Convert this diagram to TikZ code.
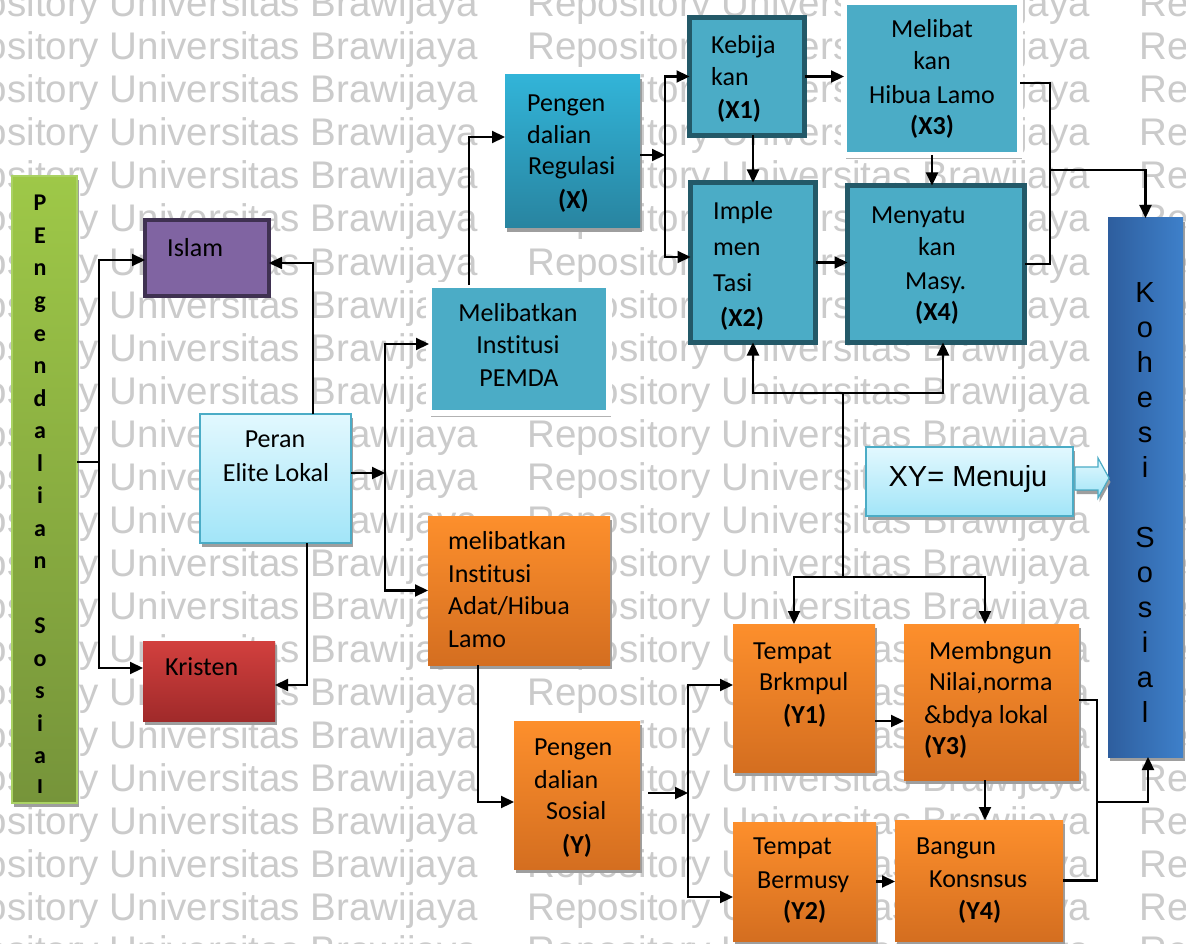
\documentclass[tikz,border=0pt]{standalone}
\usepackage{fontspec}
\setmainfont{Carlito}[Ligatures=NoCommon]
\newfontfamily\arialf{Liberation Sans}
\usetikzlibrary{arrows.meta,calc,shadows}

\definecolor{barT}{RGB}{158,200,72}
\definecolor{barB}{RGB}{118,148,58}
\definecolor{barL}{RGB}{170,210,100}
\definecolor{purF}{RGB}{128,100,162}
\definecolor{purD}{RGB}{63,49,81}
\definecolor{redT}{RGB}{210,64,62}
\definecolor{redB}{RGB}{160,42,42}
\definecolor{lcT}{RGB}{226,248,254}
\definecolor{lcB}{RGB}{162,229,248}
\definecolor{tealF}{RGB}{75,172,198}
\definecolor{tealD}{RGB}{35,89,104}
\definecolor{regT}{RGB}{50,180,216}
\definecolor{regB}{RGB}{40,132,160}
\definecolor{orT}{RGB}{253,143,44}
\definecolor{orB}{RGB}{212,110,32}
\definecolor{kohL}{RGB}{46,94,158}
\definecolor{kohR}{RGB}{62,128,202}
\definecolor{wmGray}{RGB}{203,203,203}

\begin{document}
\begin{tikzpicture}[x=1pt,y=-1pt,
  shadowed/.style={drop shadow={shadow xshift=1.5pt,shadow yshift=-4pt,fill=black!38,opacity=1}},
  box/.style={inner sep=0pt,outer sep=0pt},
  barbox/.style={box,shadowed,top color=barT,bottom color=barB,draw=barL,line width=1.5pt},
  islambox/.style={box,fill=purF,draw=purD,line width=4pt},
  kristenbox/.style={box,shadowed,top color=redT,bottom color=redB},
  lightbox/.style={box,shadowed,top color=lcT,bottom color=lcB,draw=tealF,line width=1.5pt},
  framebox/.style={box,drop shadow={shadow xshift=2pt,shadow yshift=-4pt,fill=black!30,opacity=1},fill=tealF,draw=white,line width=6pt},
  regbox/.style={box,shadowed,top color=regT,bottom color=regB},
  darkbox/.style={box,fill=tealF,draw=tealD,line width=5pt},
  orangebox/.style={box,shadowed,top color=orT,bottom color=orB},
  kohbox/.style={box,shadowed,left color=kohL,right color=kohR},
  txt/.style={font=\fontsize{26}{30}\selectfont,inner sep=0pt,text height=18pt,text depth=5pt},
  bold/.style={txt,font=\fontsize{26}{30}\selectfont\bfseries},
  wm/.style={font=\arialf\fontsize{38.5}{40}\selectfont,text=wmGray,inner sep=0pt,text height=28pt,text depth=8pt,anchor=west},
  conn/.style={line width=2.2pt,draw=black},
  arr/.style={conn,-{Triangle[length=13pt,width=12pt]}}
]
\fill[white] (0,0) rectangle (1186,944);
\clip (0,0) rectangle (1186,944);

% repository watermark in the background
\foreach \r in {0,...,22}{
  \foreach \c/\xx in {0/-85,1/527,2/1139}{
    \node[wm] (wm-\r-\c) at (\xx,{7+43*\r}) {Repository Universitas Brawijaya};
  }
}

% ---------- boxes ----------
\node[barbox,minimum width=65pt,minimum height=627pt] (bar) at (44.5,489.5) {};
\node[islambox,minimum width=124pt,minimum height=76pt] (islam) at (207,258) {};
\node[kristenbox,minimum width=132pt,minimum height=80pt] (kristen) at (209,681) {};
\node[lightbox,minimum width=151pt,minimum height=129pt] (peran) at (275.5,478.5) {};
\node[framebox,minimum width=180pt,minimum height=128pt] (pemda) at (519,349) {};
\node[regbox,minimum width=135pt,minimum height=153pt] (reg) at (572.5,151.5) {};
\node[darkbox,minimum width=115pt,minimum height=118pt] (x1) at (747,76.5) {};
\node[framebox,minimum width=176pt,minimum height=153pt] (x3) at (932,78.5) {};
\node[darkbox,minimum width=125pt,minimum height=160pt] (x2) at (753,262.5) {};
\node[darkbox,minimum width=177pt,minimum height=157pt] (x4) at (936,264) {};
\node[orangebox,minimum width=182pt,minimum height=149pt] (adat) at (519,590.5) {};
\node[orangebox,minimum width=126pt,minimum height=148pt] (ys) at (577,795) {};
\node[orangebox,minimum width=142pt,minimum height=148pt] (y1) at (804,698) {};
\node[orangebox,minimum width=175pt,minimum height=156pt] (y3) at (991.5,702) {};
\node[orangebox,minimum width=143pt,minimum height=119pt] (y2) at (804.5,881.5) {};
\node[orangebox,minimum width=168pt,minimum height=121pt] (y4) at (979,880.5) {};
\node[kohbox,minimum width=75pt,minimum height=539pt] (koh) at (1145.5,487.5) {};
\node[lightbox,minimum width=207pt,minimum height=69pt] (xy) at (969.5,481.5) {};

% legend block arrow
\filldraw[shadowed,top color=lcT,bottom color=lcB,draw=tealF,line width=1.2pt]
  (1075,467) -- (1098,467) -- (1098,458) -- (1109,478) -- (1098,498) -- (1098,490) -- (1075,490) -- cycle;

% ---------- vertical labels ----------
\begin{scope}
  \clip (12,176) rectangle (77,792);
  \foreach \ch [count=\i from 0] in {P,E,n,g,e,n,d,a,l,i,a,n,{},S,o,s,i,a,l}{
    \node[font=\fontsize{24}{24}\selectfont\bfseries,inner sep=0pt,anchor=base] (bar-\i) at (40,{211+32.5*\i}) {\ch};
  }
\end{scope}
\foreach \ch [count=\i from 0] in {K,o,h,e,s,i,{},S,o,s,i,a,l}{
  \node[font=\arialf\fontsize{29}{29}\selectfont,inner sep=0pt,anchor=base] (koh-\i) at (1145,{302+35*\i}) {\ch};
}

% ---------- box texts ----------
\node[txt,anchor=west] (t-islam) at (167,250) {Islam};
\node[txt,anchor=west] (t-kristen) at (165,669) {Kristen};
\node[txt] (t-peran-1) at (275,441) {Peran};
\node[txt] (t-peran-2) at (276,475) {Elite Lokal};
\node[txt] (t-pemda-1) at (518,315) {Melibatkan};
\node[txt] (t-pemda-2) at (518,347) {Institusi};
\node[txt] (t-pemda-3) at (519,380) {PEMDA};
\node[txt,anchor=west] (t-reg-1) at (527,105) {Pengen};
\node[txt,anchor=west] (t-reg-2) at (527,137) {dalian};
\node[txt,anchor=west] (t-reg-3) at (528,168) {Regulasi};
\node[bold,anchor=west] (t-reg-4) at (558,202) {(X)};
\node[txt,anchor=west] (t-x1-1) at (711,47) {Kebija};
\node[txt,anchor=west] (t-x1-2) at (711,79) {kan};
\node[bold,anchor=west] (t-x1-3) at (717,112) {(X1)};
\node[txt] (t-x3-1) at (932,31) {Melibat};
\node[txt] (t-x3-2) at (932,63) {kan};
\node[txt] (t-x3-3) at (932,97) {Hibua Lamo};
\node[bold] (t-x3-4) at (932,128) {(X3)};
\node[txt,anchor=west] (t-x2-1) at (713,213) {Imple};
\node[txt,anchor=west] (t-x2-2) at (713,249) {men};
\node[txt,anchor=west] (t-x2-3) at (713,285) {Tasi};
\node[bold,anchor=west] (t-x2-4) at (720,320) {(X2)};
\node[txt,anchor=west] (t-x4-1) at (871,217) {Menyatu};
\node[txt,anchor=west] (t-x4-2) at (918,249) {kan};
\node[txt,anchor=west] (t-x4-3) at (905,283) {Masy.};
\node[bold,anchor=west] (t-x4-4) at (915,314) {(X4)};
\node[txt,anchor=west] (t-adat-1) at (448,543) {melibatkan};
\node[txt,anchor=west] (t-adat-2) at (448,576) {Institusi};
\node[txt,anchor=west] (t-adat-3) at (448,608) {Adat/Hibua};
\node[txt,anchor=west] (t-adat-4) at (448,641) {Lamo};
\node[txt,anchor=west] (t-ys-1) at (534,749) {Pengen};
\node[txt,anchor=west] (t-ys-2) at (534,782) {dalian};
\node[txt,anchor=west] (t-ys-3) at (546,813) {Sosial};
\node[bold,anchor=west] (t-ys-4) at (562,847) {(Y)};
\node[txt,anchor=west] (t-y1-1) at (753,653) {Tempat};
\node[txt,anchor=west] (t-y1-2) at (759,684) {Brkmpul};
\node[bold,anchor=west] (t-y1-3) at (783,717) {(Y1)};
\node[txt,anchor=west] (t-y3-1) at (929,653) {Membngun};
\node[txt,anchor=west] (t-y3-2) at (929,684) {Nilai,norma};
\node[txt,anchor=west] (t-y3-3) at (924,717) {\&bdya lokal};
\node[bold,anchor=west] (t-y3-4) at (924,748) {(Y3)};
\node[txt,anchor=west] (t-y2-1) at (753,848) {Tempat};
\node[txt,anchor=west] (t-y2-2) at (757,882) {Bermusy};
\node[bold,anchor=west] (t-y2-3) at (783,913) {(Y2)};
\node[txt,anchor=west] (t-y4-1) at (916,848) {Bangun};
\node[txt,anchor=west] (t-y4-2) at (929,881) {Konsnsus};
\node[bold,anchor=west] (t-y4-3) at (958,913) {(Y4)};
\node[font=\arialf\fontsize{29}{32}\selectfont,inner sep=0pt,anchor=base] (t-xy) at (968,486) {XY= Menuju};

% ---------- junction points ----------
\coordinate (jL) at (99,462);
\coordinate (jP) at (385,473);
\coordinate (jR) at (665,155);
\coordinate (jK) at (1050,170);
\coordinate (jM) at (843,393);
\coordinate (jN) at (843,577);
\coordinate (jY) at (688,793);
\coordinate (jS) at (1097,802);

% ---------- connectors ----------
\draw[conn] (bar.east |- jL) -- (jL);
\draw[arr] (jL) |- ($(islam.west)+(0,2)$);
\draw[arr] (jL) |- ($(kristen.west)+(0,-13)$);
\draw[arr] ($(peran.north)+(37.5,0)$) |- ($(islam.east)+(0,5)$);
\draw[arr] ($(peran.south)+(31.5,0)$) |- ($(kristen.east)+(0,4)$);
\draw[arr] (peran.east |- jP) -- (jP);
\draw[arr] (jP) |- ($(pemda.west)+(0,-5)$);
\draw[arr] (jP) |- (adat.west);
\draw[arr] ($(pemda.north)+(-50,0)$) |- ($(reg.west)+(0,-14.5)$);
\draw[arr] (reg.east |- jR) -- (jR);
\draw[arr] (jR) |- (x1.west);
\draw[arr] (jR) |- ($(x2.west)+(0,-5.5)$);
\draw[arr] (x1.east) -- (x1.east -| x3.west);
\draw[arr] (x2.north |- x1.south) -- (x2.north);
\draw[arr] (x3.south) -- (x3.south |- x4.north);
\draw[arr] (x2.east) -- (x2.east -| x4.west);
\draw[conn] ($(x3.east)+(0,4.5)$) -| (jK) |- (x4.east);
\draw[arr] (jK) -| (koh.north);
\draw[conn] (jN) -- (jM);
\draw[arr] (jM) -| (x2.south);
\draw[arr] (jM) -| ($(x4.south)+(7,0)$);
\draw[arr] (jN) -| ($(y1.north)+(-10,0)$);
\draw[arr] (jN) -| ($(y3.north)+(-6.5,0)$);
\draw[arr] ($(adat.south)+(-41,0)$) |- ($(ys.west)+(0,7)$);
\draw[arr] ($(ys.east)+(8,-2)$) -- (jY);
\draw[arr] (jY) |- ($(y1.west)+(0,-13)$);
\draw[arr] (jY) |- ($(y2.west)+(0,15.5)$);
\draw[arr] ($(y1.east)+(0,23)$) -- ($(y3.west)+(0,19)$);
\draw[arr] ($(y3.south)+(-6.5,0)$) -- ($(y4.north)+(6,0)$);
\draw[arr] (y2.east) -- (y2.east -| y4.west);
\draw[conn] ($(y3.east)+(0,-2)$) -| (jS) |- (y4.east);
\draw[arr] (jS) -| ($(koh.south)+(2.5,0)$);
\end{tikzpicture}
\end{document}
